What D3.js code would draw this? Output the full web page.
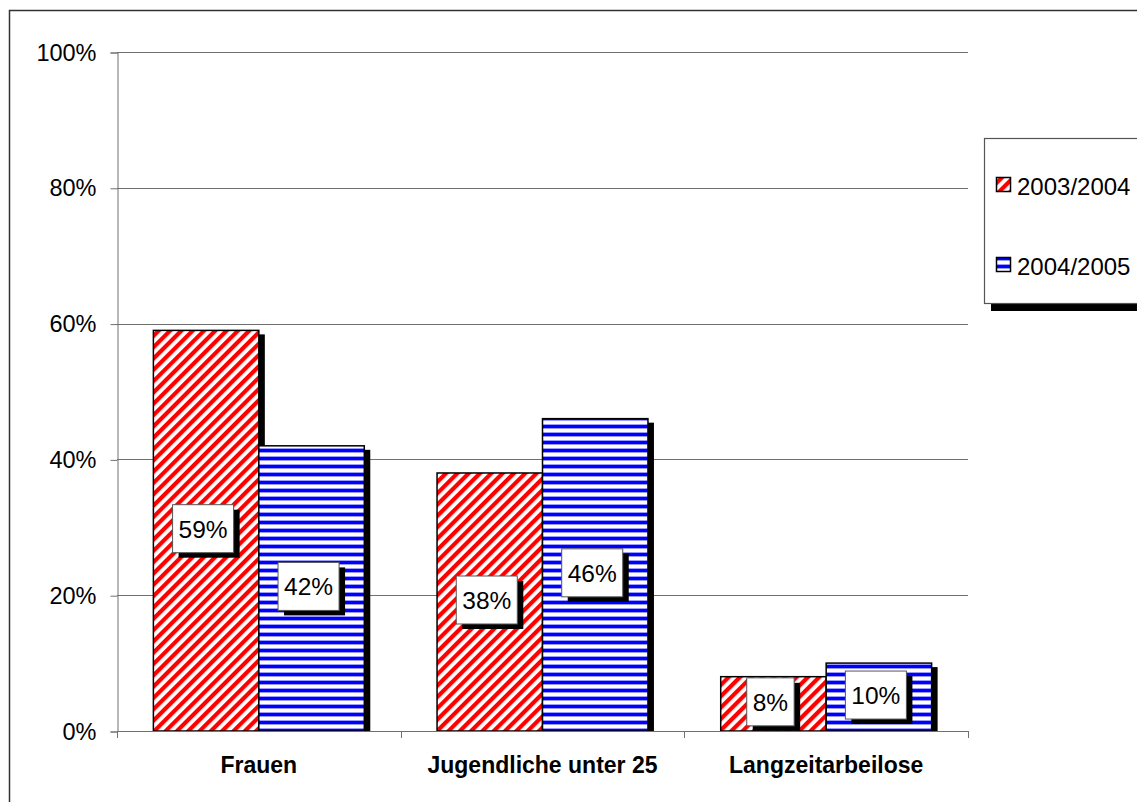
<!DOCTYPE html>
<html>
<head>
<meta charset="utf-8">
<script src="https://cdn.jsdelivr.net/npm/d3@7"></script>
<style>
  html, body { margin: 0; padding: 0; background: #fff; }
  svg { display: block; font-family: "Liberation Sans", Arial, sans-serif; }
</style>
</head>
<body>
<svg id="chart" width="1137" height="802"></svg>
<script>
// Anteile der Zielgruppen je Förderjahr
const categories = ["Frauen", "Jugendliche unter 25", "Langzeitarbeilose"];
const seriesNames = ["2003/2004", "2004/2005"];
const values2003 = [59, 38, 8];
const values2004 = [42, 46, 10];
const yTicks = [0, 20, 40, 60, 80, 100];

const seriesValues = [values2003, values2004];
const svg = d3.select("#chart");

const plot = { left: 117, right: 968, top: 52, bottom: 731 };

const x0 = d3.scaleBand().domain(categories).range([plot.left, plot.right]).padding(0);
const x1 = d3.scaleBand().domain(seriesNames).range([0, x0.bandwidth()])
  .paddingInner(0).paddingOuter(0.345);
const y = d3.scaleLinear().domain([0, 100]).range([plot.bottom, plot.top]);

// Fill patterns
const defs = svg.append("defs");
const diag = defs.append("pattern").attr("id", "pat-red")
  .attr("patternUnits", "userSpaceOnUse").attr("width", 8).attr("height", 8)
  .attr("patternTransform", "rotate(45)");
diag.append("rect").attr("width", 8).attr("height", 8).attr("fill", "#fff");
diag.append("rect").attr("x", 0).attr("width", 4.2).attr("height", 8).attr("fill", "#ff0000");

const horiz = defs.append("pattern").attr("id", "pat-blue")
  .attr("patternUnits", "userSpaceOnUse").attr("width", 8).attr("height", 8);
horiz.append("rect").attr("width", 8).attr("height", 8).attr("fill", "#fff");
horiz.append("rect").attr("y", 0).attr("width", 8).attr("height", 5).attr("fill", "#9a9aff");
horiz.append("rect").attr("y", 1).attr("width", 8).attr("height", 3).attr("fill", "#0000ff");

const fills = ["url(#pat-red)", "url(#pat-blue)"];

defs.append("clipPath").attr("id", "plot-clip")
  .append("rect").attr("x", plot.left).attr("y", 0)
  .attr("width", 1137 - plot.left).attr("height", plot.bottom);

// Outer chart frame
svg.append("path")
  .attr("d", `M9.5,810 V10.5 H1145`)
  .attr("fill", "none").attr("stroke", "#333").attr("stroke-width", 1.5);

// Gridlines
svg.append("g").selectAll("line").data(yTicks.filter(d => d > 0)).join("line")
  .attr("x1", plot.left).attr("x2", plot.right)
  .attr("y1", d => Math.round(y(d)) + 0.5).attr("y2", d => Math.round(y(d)) + 0.5)
  .attr("stroke", "#707070").attr("stroke-width", 1);

// Y axis
const yAxis = d3.axisLeft(y).tickValues(yTicks).tickFormat(d => d + "%")
  .tickSize(7).tickPadding(14);
const gy = svg.append("g").attr("transform", `translate(${plot.left + 0.5},0.5)`).call(yAxis);
gy.select(".domain").attr("stroke", "#707070");
gy.selectAll(".tick line").attr("stroke", "#707070");
gy.selectAll(".tick text").attr("font-size", 23.5).attr("fill", "#000")
  .attr("font-family", "'Liberation Sans', Arial, sans-serif");

// Bars
const groups = categories.map((c, i) => seriesNames.map((s, j) => ({
  cat: c, series: s, j, value: seriesValues[j][i]
})));
const flat = groups.flat();

const shadowOff = 6;
svg.append("g").attr("clip-path", "url(#plot-clip)")
  .selectAll("rect").data(flat).join("rect")
  .attr("x", d => x0(d.cat) + x1(d.series) + shadowOff)
  .attr("y", d => y(d.value) + 4)
  .attr("width", x1.bandwidth())
  .attr("height", d => plot.bottom - y(d.value))
  .attr("fill", "#000");

svg.append("g").selectAll("rect").data(flat).join("rect")
  .attr("x", d => x0(d.cat) + x1(d.series))
  .attr("y", d => y(d.value))
  .attr("width", x1.bandwidth())
  .attr("height", d => plot.bottom - y(d.value))
  .attr("fill", d => fills[d.j])
  .attr("stroke", "#000").attr("stroke-width", 1.5);

// X axis
const xAxisLine = svg.append("g");
xAxisLine.append("line")
  .attr("x1", plot.left).attr("x2", plot.right)
  .attr("y1", plot.bottom + 0.5).attr("y2", plot.bottom + 0.5)
  .attr("stroke", "#707070");
const xTickPos = categories.map(c => x0(c)).concat([plot.right]);
xAxisLine.selectAll(".xt").data(xTickPos).join("line").attr("class", "xt")
  .attr("x1", d => Math.round(d) + 0.5).attr("x2", d => Math.round(d) + 0.5)
  .attr("y1", plot.bottom).attr("y2", plot.bottom + 7)
  .attr("stroke", "#707070");
xAxisLine.selectAll("text").data(categories).join("text")
  .attr("x", d => x0(d) + x0.bandwidth() / 2)
  .attr("y", 773)
  .attr("text-anchor", "middle")
  .attr("font-size", 23).attr("font-weight", "bold").attr("fill", "#000")
  .text(d => d);

// Value labels with boxed shadow
const labelG = svg.append("g").selectAll("g").data(flat).join("g");
labelG.each(function(d) {
  const g = d3.select(this);
  const cx = x0(d.cat) + x1(d.series) + x1.bandwidth() / 2 - 3;
  const cy = (y(d.value) + plot.bottom) / 2 - 2;
  const t = g.append("text").attr("font-size", 24.5).attr("text-anchor", "middle")
    .attr("x", cx).attr("y", cy).attr("dy", "0.36em").attr("fill", "#000")
    .text(d.value + "%");
  const w = t.node().getComputedTextLength() + 12;
  const h = 48;
  g.insert("rect", "text")
    .attr("x", cx - w / 2 + 6).attr("y", cy - h / 2 + 5)
    .attr("width", w).attr("height", h).attr("fill", "#000");
  g.insert("rect", "text")
    .attr("x", cx - w / 2).attr("y", cy - h / 2)
    .attr("width", w).attr("height", h)
    .attr("fill", "#fff").attr("stroke", "#555").attr("stroke-width", 1);
});

// Legend
const legend = svg.append("g");
legend.append("rect").attr("x", 991).attr("y", 145).attr("width", 200).attr("height", 166).attr("fill", "#000");
legend.append("rect").attr("x", 984.5).attr("y", 138.5).attr("width", 200).attr("height", 165)
  .attr("fill", "#fff").attr("stroke", "#555").attr("stroke-width", 1.2);
const legendY = [177, 257];
const items = legend.selectAll(".item").data(seriesNames).join("g").attr("class", "item");
items.append("rect")
  .attr("x", 996.5).attr("y", (d, i) => legendY[i] + 0.5)
  .attr("width", 14).attr("height", 14)
  .attr("fill", (d, i) => fills[i]).attr("stroke", "#000").attr("stroke-width", 1.5);
items.append("text")
  .attr("x", 1017).attr("y", (d, i) => legendY[i] + 9)
  .attr("dy", "0.36em")
  .attr("font-size", 24).attr("fill", "#000")
  .text(d => d);
</script>
</body>
</html>
